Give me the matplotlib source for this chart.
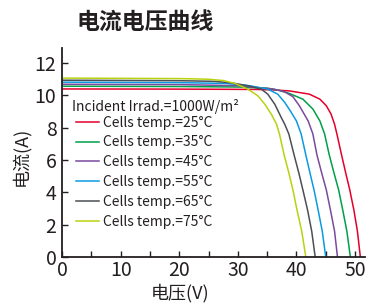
import matplotlib
matplotlib.use("Agg")
import matplotlib.pyplot as plt

plt.rcParams['font.family'] = ['Noto Sans CJK SC', 'DejaVu Sans']

# I-V curves, one per cell temperature
temps = [25, 35, 45, 55, 65, 75]
colors = ['#e4002b', '#00a048', '#7b4a9e', '#0b9ae0', '#4a5056', '#b9d20f']

v_25 = [0, 20, 33, 36, 38.8, 42.2, 44.0, 45.1, 45.9, 46.5, 46.9, 47.7, 48.4, 49.1, 49.8, 50.4, 50.9]
i_25 = [10.38, 10.37, 10.35, 10.32, 10.26, 10.06, 9.75, 9.34, 8.83, 8.2, 7.6, 6.3, 5.2, 4.14, 2.9, 1.6, 0]

v_35 = [0, 20, 30, 35, 37, 38.8, 41.1, 42.8, 44.0, 44.5, 44.8, 45.6, 46.4, 47.2, 47.9, 48.6, 49.2]
i_35 = [10.55, 10.53, 10.5, 10.43, 10.3, 10.1, 9.75, 9.14, 8.4, 7.9, 7.6, 6.3, 5.2, 4.14, 2.9, 1.6, 0]

v_45 = [0, 20, 30, 36, 38.0, 39.4, 40.5, 42.0, 42.8, 43.5, 44.3, 45.1, 45.8, 46.5, 47.0]
i_45 = [10.67, 10.65, 10.58, 10.38, 10.2, 9.9, 9.34, 8.4, 7.6, 6.3, 5.2, 4.14, 2.9, 1.6, 0]

v_55 = [0, 20, 28, 32, 35.1, 36.8, 38.0, 39.0, 40.0, 40.8, 41.6, 42.3, 43.0, 43.7, 44.4, 45.0]
i_55 = [10.8, 10.77, 10.72, 10.58, 10.37, 10.06, 9.55, 9.0, 8.4, 7.6, 6.3, 5.2, 4.14, 2.9, 1.6, 0]

v_65 = [0, 20, 26, 29, 31.7, 34.0, 35.1, 36.3, 37.4, 38.0, 38.7, 39.6, 40.4, 41.1, 41.9, 42.6, 43.2]
i_65 = [10.92, 10.89, 10.85, 10.75, 10.58, 10.37, 10.06, 9.44, 8.62, 8.2, 7.6, 6.3, 5.2, 4.14, 2.9, 1.6, 0]

v_75 = [0, 20, 25, 27.5, 29.5, 31.7, 33.4, 34.6, 35.7, 36.6, 37.1, 37.9, 38.7, 39.4, 40.1, 40.9, 41.6]
i_75 = [11.05, 11.02, 10.98, 10.9, 10.72, 10.37, 9.96, 9.44, 8.83, 8.2, 7.6, 6.3, 5.2, 4.14, 2.9, 1.6, 0]

volts = [v_25, v_35, v_45, v_55, v_65, v_75]
amps = [i_25, i_35, i_45, i_55, i_65, i_75]

txt = '#231f20'

fig = plt.figure(figsize=(3.7, 3.05), dpi=100)
ax = fig.add_axes([0.1676, 0.157, 0.819, 0.6852])

for t, c, v, i in zip(temps, colors, volts, amps):
    ax.plot(v, i, color=c, lw=1.1, label='Cells temp.=%d°C' % t)

ax.set_xlim(0, 51.7)
ax.set_ylim(0, 12.9)
ax.set_xticks(range(0, 51, 10))
ax.set_xticks(range(5, 51, 10), minor=True)
ax.set_yticks(range(0, 13, 2))
ax.tick_params(direction='in', length=4, width=1, colors=txt, labelsize=14, pad=2)
ax.tick_params(axis='y', pad=4)
ax.tick_params(which='minor', direction='in', length=4, width=1, colors=txt)
for s in ['top', 'right']:
    ax.spines[s].set_visible(False)
for s in ['left', 'bottom']:
    ax.spines[s].set_color(txt)
    ax.spines[s].set_linewidth(1.3)

ax.set_xlabel('电压(V)', fontsize=13, color=txt)
ax.xaxis.set_label_coords(0.388, -0.125)
ax.set_ylabel('电流(A)', fontsize=13, color=txt)
ax.yaxis.set_label_coords(-0.105, 0.48)

ax.text(0.033, 0.72, 'Incident Irrad.=1000W/m²', transform=ax.transAxes,
        fontsize=10, color=txt, ha='left', va='center')
leg = ax.legend(loc='upper left', bbox_to_anchor=(0.046, 0.677), frameon=False,
                fontsize=10, handlelength=1.65, handletextpad=0.3,
                labelspacing=0.42, borderpad=0, borderaxespad=0)
for tx in leg.get_texts():
    tx.set_color(txt)

fig.text(0.392, 0.925, '电流电压曲线', fontsize=16.5, fontweight='bold', color=txt,
         ha='center', va='center')

fig.savefig('out.png', dpi=100)
